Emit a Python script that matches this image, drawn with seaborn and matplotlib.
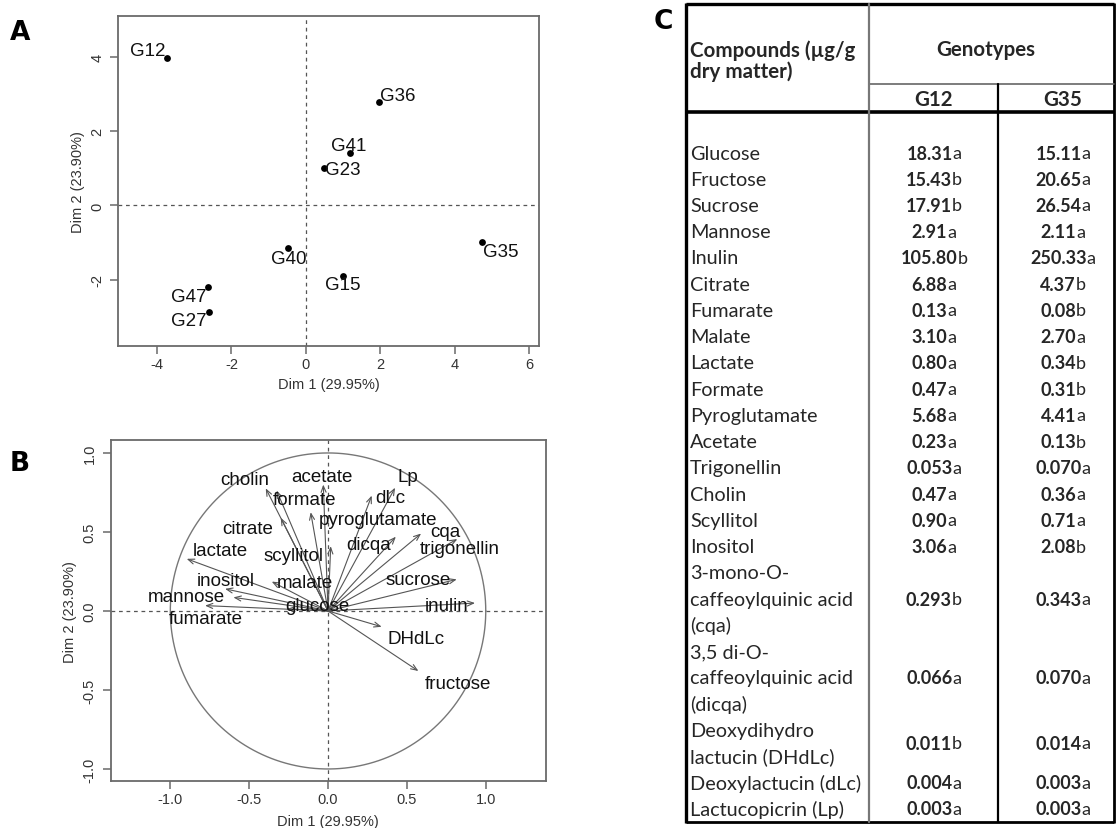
import numpy as np
import pandas as pd
import matplotlib
matplotlib.use("Agg")
import matplotlib.pyplot as plt
import seaborn as sns

# ---------------- data ----------------
genotypes = ["G12", "G36", "G41", "G23", "G40", "G35", "G15", "G47", "G27"]
ind_dim1 = [-3.74, 1.97, 1.19, 0.48, -0.47, 4.73, 0.99, -2.62, -2.60]
ind_dim2 = [3.97, 2.77, 1.41, 1.01, -1.15, -0.98, -1.89, -2.18, -2.86]

variables = ["cholin", "formate", "citrate", "pyroglutamate", "acetate", "scyllitol",
             "dLc", "Lp", "dicqa", "cqa", "trigonellin", "sucrose", "inulin",
             "DHdLc", "fructose", "lactate", "inositol", "mannose", "fumarate",
             "malate", "glucose"]
var_dim1 = [-0.395, -0.326, -0.30, -0.11, -0.03, 0.017, 0.277, 0.425, 0.43, 0.59,
            0.82, 0.816, 0.932, 0.34, 0.573, -0.896, -0.653, -0.60, -0.78, -0.357, -0.26]
var_dim2 = [0.776, 0.762, 0.59, 0.625, 0.80, 0.41, 0.73, 0.78, 0.47, 0.49,
            0.455, 0.20, 0.05, -0.10, -0.38, 0.33, 0.14, 0.086, 0.034, 0.186, 0.013]

dim1_label = "Dim 1 (29.95%)"
dim2_label = "Dim 2 (23.90%)"
a_xticks = [-4, -2, 0, 2, 4, 6]
a_yticks = [-2, 0, 2, 4]
b_ticks = [-1.0, -0.5, 0.0, 0.5, 1.0]

compounds = ["Glucose", "Fructose", "Sucrose", "Mannose", "Inulin", "Citrate",
             "Fumarate", "Malate", "Lactate", "Formate", "Pyroglutamate", "Acetate",
             "Trigonellin", "Cholin", "Scyllitol", "Inositol",
             "3-mono-O-\ncaffeoylquinic acid\n(cqa)",
             "3,5 di-O-\ncaffeoylquinic acid\n(dicqa)",
             "Deoxydihydro\nlactucin (DHdLc)",
             "Deoxylactucin (dLc)", "Lactucopicrin (Lp)"]
g12_values = ["18.31", "15.43", "17.91", "2.91", "105.80", "6.88", "0.13", "3.10", "0.80",
              "0.47", "5.68", "0.23", "0.053", "0.47", "0.90", "3.06", "0.293", "0.066",
              "0.011", "0.004", "0.003"]
g12_letters = ["a", "b", "b", "a", "b", "a", "a", "a", "a", "a", "a", "a", "a", "a", "a",
               "a", "b", "a", "b", "a", "a"]
g35_values = ["15.11", "20.65", "26.54", "2.11", "250.33", "4.37", "0.08", "2.70", "0.34",
              "0.31", "4.41", "0.13", "0.070", "0.36", "0.71", "2.08", "0.343", "0.070",
              "0.014", "0.003", "0.003"]
g35_letters = ["a", "a", "a", "a", "a", "b", "b", "a", "b", "b", "a", "b", "a", "a", "a",
               "b", "a", "a", "a", "a", "a"]
header_compound = "Compounds (µg/g\ndry matter)"
header_genotypes = "Genotypes"
header_cols = ["G12", "G35"]

# ---------------- layout / style ----------------
W, H = 1117, 829
sns.set_style("white")
plt.rcParams["font.family"] = ["Liberation Sans", "DejaVu Sans"]
fig = plt.figure(figsize=(W / 100, H / 100), dpi=100)

# full-figure pixel axes for table and panel letters
axT = fig.add_axes([0, 0, 1, 1])
axT.set_xlim(0, W)
axT.set_ylim(H, 0)
axT.set_axis_off()


def px_axes(left, top, right, bottom):
    return fig.add_axes([left / W, 1 - bottom / H, (right - left) / W, (bottom - top) / H])


FRAME = "#6a6a6a"
TXT = "#333333"


def style_axes(ax, xt, yt, xtl, ytl, xlabel_off, ylabel_off, wpx, hpx):
    for s in ax.spines.values():
        s.set_color(FRAME)
        s.set_linewidth(1.3)
    ax.set_xticks(xt)
    ax.set_yticks(yt)
    ax.set_xticklabels(xtl)
    ax.set_yticklabels(ytl)
    ax.tick_params(direction="out", length=6, width=1.1, color=FRAME, labelsize=10.5,
                   labelcolor=TXT, pad=2, bottom=True, left=True, top=False, right=False)
    for lab in ax.get_yticklabels():
        lab.set_rotation(90)
        lab.set_va("center")
        lab.set_ha("center")
    ax.tick_params(axis="y", pad=9)
    ax.set_xlabel(dim1_label, fontsize=10.5, color=TXT)
    ax.set_ylabel(dim2_label, fontsize=10.5, color=TXT)
    ax.xaxis.set_label_coords(0.5, -xlabel_off / hpx)
    ax.yaxis.set_label_coords(-ylabel_off / wpx, 0.5)
    ax.xaxis.label.set_va("center")
    ax.yaxis.label.set_va("center")
    ax.grid(False)


dash = (0, (3, 3))

# ---------------- Panel A ----------------
axA = px_axes(118.3, 16.7, 539, 346.7)
axA.set_xlim(-5.04, 6.27)
axA.set_ylim(-3.77, 5.10)
axA.axhline(0, color="#555555", lw=0.9, ls=dash, zorder=1)
axA.axvline(0, color="#555555", lw=0.9, ls=dash, zorder=1)
sns.scatterplot(x=ind_dim1, y=ind_dim2, ax=axA, color="black", s=24, linewidth=0, zorder=3)
a_label_off = {"G12": (-19, 7), "G36": (19, 7), "G41": (-1, 7), "G23": (19, -2),
               "G40": (0, -10), "G35": (19, -10), "G15": (0, -9), "G47": (-20, -10),
               "G27": (-20, -9)}
for g, x, y in zip(genotypes, ind_dim1, ind_dim2):
    axA.annotate(g, (x, y), xytext=a_label_off[g], textcoords="offset pixels",
                 ha="center", va="center", fontsize=13.5, color="#111111")
style_axes(axA, a_xticks, a_yticks, [str(t) for t in a_xticks], [str(t) for t in a_yticks],
           38, 40, 420.7, 330)

# ---------------- Panel B ----------------
axB = px_axes(110.7, 441, 546, 782.3)
axB.set_xlim(-1.378, 1.382)
axB.set_ylim(-1.078, 1.082)
axB.axhline(0, color="#555555", lw=0.9, ls=dash, zorder=1)
axB.axvline(0, color="#555555", lw=0.9, ls=dash, zorder=1)
theta = np.linspace(0, 2 * np.pi, 400)
sns.lineplot(x=np.cos(theta), y=np.sin(theta), sort=False, estimator=None, errorbar=None,
             ax=axB, color="#777777", lw=1.0, zorder=2)
b_label_off = {"cholin": (-21, 9), "formate": (28, -9), "citrate": (-33, -11),
               "pyroglutamate": (67, -7), "acetate": (-1, 8), "scyllitol": (-37, -9),
               "dLc": (19, -2), "Lp": (13, 11), "dicqa": (-27, -8), "cqa": (24, 2),
               "trigonellin": (2, -9), "sucrose": (-39, 0), "inulin": (-28, -2),
               "DHdLc": (34, -12), "fructose": (40, -12), "lactate": (34, 8),
               "inositol": (1, 8), "mannose": (-47, 1), "fumarate": (1, -13),
               "malate": (33, -1), "glucose": (30, 3)}
for v, x, y in zip(variables, var_dim1, var_dim2):
    axB.annotate("", xy=(x, y), xytext=(0, 0),
                 arrowprops=dict(arrowstyle="->,head_length=0.45,head_width=0.18",
                                 color="#555555", lw=0.8, shrinkA=0, shrinkB=0),
                 zorder=3)
for v, x, y in zip(variables, var_dim1, var_dim2):
    axB.annotate(v, (x, y), xytext=b_label_off[v], textcoords="offset pixels",
                 ha="center", va="center", fontsize=13.5, color="#111111", zorder=4)
style_axes(axB, b_ticks, b_ticks, [f"{t:.1f}" for t in b_ticks], [f"{t:.1f}" for t in b_ticks],
           40, 41, 435.3, 341.3)

# ---------------- Panel letters ----------------
for letter, (lx, ly) in {"A": (20, 33), "B": (20, 464), "C": (663, 22)}.items():
    axT.text(lx, ly, letter, ha="center", va="center", fontsize=19, fontweight="heavy",
             family="DejaVu Sans", color="black")

# ---------------- Panel C: table ----------------
TF = "Lato"
TS_NAME = 14.3
TS_HEAD = 14.8
TS_VAL = 13
x_left, x_c1, x_c2, x_right = 686, 869, 998, 1114
y_top, y_sub, y_head, y_bot = 5, 85, 113, 823

# borders
axT.plot([x_left, x_right], [y_top, y_top], color="black", lw=2.4, solid_capstyle="butt")
axT.plot([x_left, x_left], [y_top - 1, y_bot + 1], color="black", lw=2.4, solid_capstyle="butt")
axT.plot([x_right, x_right], [y_top - 1, y_bot + 1], color="black", lw=2.0, solid_capstyle="butt")
axT.plot([x_left, x_right], [y_bot, y_bot], color="black", lw=2.0, solid_capstyle="butt")
axT.plot([x_left, x_right], [y_head, y_head], color="black", lw=2.6, solid_capstyle="butt")
axT.plot([x_c1, x_right], [y_sub, y_sub], color="#666666", lw=1.2)
axT.plot([x_c1, x_c1], [y_top, y_bot], color="#777777", lw=1.6)
axT.plot([x_c2, x_c2], [y_sub, y_bot], color="black", lw=1.6)

# header
hl = header_compound.split("\n")
axT.text(690, 51, hl[0], ha="left", va="center", fontsize=TS_HEAD, fontweight="bold", family=TF)
axT.text(690, 72, hl[1], ha="left", va="center", fontsize=TS_HEAD, fontweight="bold", family=TF)
axT.text(986, 50, header_genotypes, ha="center", va="center",
         fontsize=TS_HEAD, fontweight="bold", family=TF)
col_centers = [934, 1063]
for cx, h in zip(col_centers, header_cols):
    axT.text(cx, 100, h, ha="center", va="center", fontsize=TS_HEAD, fontweight="bold", family=TF)

# rows
y0, dy = 154, 26.24
fig.canvas.draw()
renderer = fig.canvas.get_renderer()


def value_cell(cx, y, num, let):
    t1 = axT.text(0, y, num, ha="left", va="center", fontsize=TS_VAL, fontweight="bold", family=TF)
    t2 = axT.text(0, y, let, ha="left", va="center", fontsize=TS_VAL, family=TF)
    w1 = t1.get_window_extent(renderer).width
    w2 = t2.get_window_extent(renderer).width
    start = cx - (w1 + w2) / 2
    t1.set_x(start)
    t2.set_x(start + w1)


k = 0
for comp, v1, l1, v2, l2 in zip(compounds, g12_values, g12_letters, g35_values, g35_letters):
    lines = comp.split("\n")
    for j, ln in enumerate(lines):
        axT.text(690, y0 + dy * (k + j), ln, ha="left", va="center", fontsize=TS_NAME, family=TF)
    yv = y0 + dy * (k + (len(lines) - 1) / 2)
    value_cell(col_centers[0], yv, v1, l1)
    value_cell(col_centers[1], yv, v2, l2)
    k += len(lines)

fig.savefig("out.png", dpi=100)
